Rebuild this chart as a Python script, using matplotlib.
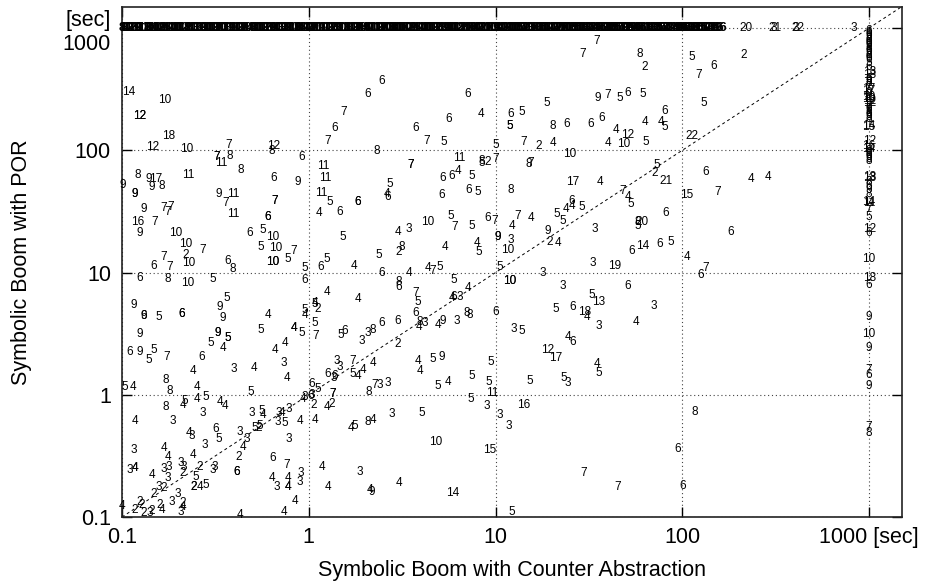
import matplotlib
matplotlib.use("Agg")
import matplotlib.pyplot as plt

plt.rcParams['font.family'] = ['Liberation Sans', 'DejaVu Sans']

# ---------------- data (x = Counter Abstraction time, y = POR time, label = parameter) -------------
pts_upper_left = [
    (0.108, 299, "14"), (0.170, 257, "10"), (0.125, 190, "12"), (0.125, 190, "12"),
    (0.178, 130, "18"), (0.145, 106, "12"), (0.223, 102, "10"), (0.373, 110, "7"),
    (0.322, 87.6, "7"), (0.322, 87.6, "7"), (0.378, 89.3, "8"), (0.338, 78.2, "11"),
    (0.650, 108, "12"), (0.634, 98, "8"), (0.918, 87.6, "6"), (0.122, 62.4, "8"),
    (0.139, 57.9, "9"), (0.152, 57.9, "17"), (0.227, 62.4, "11"), (0.433, 68.5, "8"),
    (0.650, 59.0, "6"), (0.873, 54.7, "9"), (0.101, 52.0, "9"),
]

pts_mid_left = [
    (0.145, 49.8, "9"), (0.164, 50.7, "8"), (0.117, 43.6, "9"), (0.117, 43.6, "9"),
    (0.130, 32.8, "9"), (0.168, 33.5, "7"), (0.183, 34.1, "7"), (0.176, 31.0, "7"),
    (0.121, 25.7, "16"), (0.150, 25.7, "7"), (0.125, 20.9, "9"), (0.194, 20.9, "10"),
    (0.220, 17.0, "10"), (0.271, 15.4, "7"), (0.220, 14.0, "2"), (0.228, 11.9, "10"),
    (0.168, 13.3, "7"), (0.147, 11.2, "6"), (0.181, 11.0, "7"), (0.124, 9.10, "6"),
    (0.176, 8.93, "8"), (0.225, 8.28, "10"), (0.307, 8.93, "5"), (0.330, 43.6, "9"),
    (0.392, 43.6, "11"), (0.360, 36.8, "7"), (0.392, 29.9, "11"), (0.658, 38.2, "7"),
    (0.658, 38.2, "7"), (0.604, 28.2, "6"), (0.604, 28.2, "6"), (0.484, 20.9, "6"),
    (0.568, 22.1, "5"), (0.642, 19.7, "10"), (0.554, 16.3, "5"), (0.666, 16.0, "10"),
    (0.642, 12.3, "10"), (0.642, 12.3, "10"), (0.772, 13.0, "5"), (0.831, 14.9, "7"),
    (0.369, 12.5, "6"), (0.392, 10.6, "8"), (0.952, 10.8, "5"), (0.952, 8.76, "6"),
    (0.115, 5.47, "9"), (0.364, 6.24, "5"), (0.334, 5.27, "9"), (0.347, 4.28, "9"),
    (0.130, 4.44, "6"), (0.130, 4.44, "9"), (0.158, 4.36, "5"), (0.209, 4.61, "6"),
    (0.209, 4.61, "6"), (0.604, 4.53, "4"), (0.952, 4.97, "5"), (0.952, 4.53, "4"),
    (0.125, 3.16, "9"), (0.326, 3.22, "9"), (0.326, 3.22, "9"), (0.369, 2.93, "5"),
    (0.369, 2.93, "5"), (0.299, 2.67, "5"), (0.347, 2.43, "4"), (0.554, 3.41, "5"),
    (0.831, 3.54, "4"), (0.831, 3.54, "4"), (0.918, 3.22, "5"), (0.744, 2.67, "4"),
    (0.658, 2.34, "4"), (0.110, 2.25, "6"), (0.125, 2.25, "9"), (0.148, 2.34, "5"),
]

pts_low_left = [
    (0.139, 1.94, "5"), (0.174, 2.05, "7"), (0.268, 2.05, "6"), (0.240, 1.57, "4"),
    (0.397, 1.63, "3"), (0.508, 1.66, "4"), (0.735, 1.83, "3"), (0.763, 1.38, "4"),
    (0.104, 1.16, "5"), (0.115, 1.16, "4"), (0.172, 1.33, "8"), (0.181, 1.08, "8"),
    (0.252, 1.16, "4"), (0.490, 1.06, "5"), (0.281, 0.963, "5"), (0.252, 0.927, "4"),
    (0.217, 0.893, "5"), (0.212, 0.828, "4"), (0.172, 0.797, "8"), (0.334, 0.877, "4"),
    (0.356, 0.813, "4"), (0.117, 0.612, "4"), (0.187, 0.612, "3"), (0.271, 0.712, "3"),
    (0.496, 0.712, "3"), (0.561, 0.740, "5"), (0.568, 0.686, "4"), (0.691, 0.712, "3"),
    (0.720, 0.712, "4"), (0.782, 0.768, "3"), (0.929, 0.927, "4"), (0.950, 0.963, "3"),
    (0.683, 0.601, "3"), (0.744, 0.589, "5"), (0.895, 0.612, "4"), (0.228, 0.488, "4"),
    (0.237, 0.461, "3"), (0.318, 0.527, "6"), (0.330, 0.436, "5"), (0.278, 0.389, "3"),
    (0.428, 0.497, "3"), (0.514, 0.537, "5"), (0.540, 0.537, "2"), (0.550, 0.557, "5"),
    (0.466, 0.436, "3"), (0.444, 0.375, "4"), (0.782, 0.436, "3"), (0.115, 0.354, "3"),
    (0.168, 0.368, "4"), (0.176, 0.310, "4"), (0.240, 0.322, "4"), (0.422, 0.310, "2"),
    (0.642, 0.305, "6"), (0.763, 0.267, "7"), (0.110, 0.243, "3"), (0.117, 0.252, "4"),
    (0.117, 0.252, "4"), (0.145, 0.221, "4"), (0.168, 0.247, "3"), (0.178, 0.257, "3"),
    (0.207, 0.277, "3"), (0.215, 0.257, "3"), (0.212, 0.229, "2"), (0.261, 0.257, "2"),
    (0.314, 0.257, "3"), (0.307, 0.243, "3"), (0.412, 0.234, "6"), (0.412, 0.234, "6"),
    (0.176, 0.209, "3"), (0.249, 0.213, "5"), (0.243, 0.176, "2"), (0.243, 0.176, "2"),
    (0.261, 0.176, "4"), (0.281, 0.183, "5"), (0.158, 0.176, "3"), (0.168, 0.173, "2"),
    (0.148, 0.154, "2"), (0.199, 0.154, "3"), (0.185, 0.133, "3"), (0.212, 0.130, "2"),
    (0.212, 0.121, "4"), (0.207, 0.110, "3"), (0.634, 0.209, "4"), (0.772, 0.209, "4"),
    (0.906, 0.229, "3"), (0.895, 0.194, "3"), (0.674, 0.176, "3"), (0.772, 0.176, "4"),
    (0.772, 0.176, "4"), (0.841, 0.135, "4"), (0.735, 0.110, "4"), (0.428, 0.104, "4"),
    (0.100, 0.123, "4"), (0.125, 0.133, "2"), (0.128, 0.125, "2"), (0.117, 0.114, "2"),
    (0.130, 0.108, "2"), (0.141, 0.108, "3"), (0.145, 0.112, "2"), (0.164, 0.114, "4"),
    (0.160, 0.125, "2"),
]

pts_upper_mid = [
    (2.46, 369, "6"), (2.07, 288, "6"), (1.54, 205, "7"), (1.38, 151, "6"),
    (1.26, 119, "7"), (2.31, 98.1, "8"), (3.73, 151, "6"), (4.28, 119, "7"),
    (5.27, 116, "5"), (7.08, 288, "6"), (5.61, 179, "6"), (8.31, 197, "4"),
    (10.0, 110, "5"), (6.42, 86.0, "11"), (8.41, 81.2, "8"), (8.41, 78.2, "5"),
    (9.06, 79.7, "2"), (10.0, 84.4, "7"), (1.19, 73.9, "11"), (1.22, 59.0, "11"),
    (3.51, 75.3, "7"), (3.51, 75.3, "7"), (5.21, 59.0, "6"), (5.82, 61.2, "6"),
    (6.26, 67.3, "4"), (7.44, 61.2, "5"), (12.0, 197, "6"), (13.9, 205, "5"),
    (11.9, 157, "5"), (11.9, 157, "5"), (2.71, 53.0, "5"),
]

pts_mid = [
    (1.17, 44.5, "11"), (1.30, 37.5, "5"), (1.83, 37.5, "6"), (1.83, 37.5, "6"),
    (1.13, 30.5, "4"), (1.47, 31.0, "6"), (2.61, 43.6, "4"), (2.64, 41.2, "6"),
    (5.14, 42.8, "6"), (7.17, 47.0, "6"), (8.01, 45.3, "5"), (1.52, 19.4, "5"),
    (2.99, 21.3, "4"), (3.42, 22.5, "3"), (4.33, 25.7, "10"), (5.74, 28.8, "5"),
    (6.04, 23.4, "7"), (7.44, 23.8, "5"), (9.06, 27.7, "6"), (9.88, 26.2, "7"),
    (10.3, 19.4, "9"), (10.3, 19.4, "9"), (5.34, 16.3, "4"), (7.91, 17.6, "4"),
    (8.11, 14.6, "5"), (2.37, 13.8, "5"), (3.14, 16.3, "8"), (3.03, 14.6, "2"),
    (1.25, 13.0, "5"), (1.16, 11.0, "6"), (1.74, 11.2, "4"), (2.46, 10.0, "6"),
    (3.42, 9.82, "4"), (4.33, 10.8, "4"), (4.60, 10.2, "7"), (5.02, 11.0, "5"),
    (5.96, 8.76, "5"), (10.5, 11.0, "5"), (3.03, 8.44, "8"), (3.03, 7.68, "6"),
    (1.25, 6.98, "4"), (1.83, 6.12, "4"), (3.73, 6.86, "7"), (3.83, 5.78, "5"),
    (5.82, 6.24, "4"), (5.96, 6.36, "6"), (6.42, 6.36, "3"), (7.08, 7.54, "4"),
    (1.08, 5.68, "4"), (1.08, 5.50, "5"), (1.12, 5.07, "2"), (1.08, 3.89, "5"),
    (1.09, 3.05, "7"), (1.48, 3.10, "5"), (1.56, 3.35, "6"), (1.92, 2.77, "3"),
    (2.07, 3.22, "3"), (2.20, 3.41, "8"), (2.46, 3.89, "6"), (2.99, 4.04, "6"),
    (3.73, 4.70, "6"), (3.92, 3.97, "8"), (4.17, 3.89, "3"), (3.87, 3.61, "4"),
    (4.90, 3.75, "4"), (5.21, 4.04, "9"), (6.18, 4.04, "3"), (7.00, 4.70, "8"),
    (7.26, 4.53, "8"), (10.0, 4.79, "6"), (2.99, 2.62, "2"),
]

pts_low_mid = [
    (1.41, 1.90, "3"), (1.47, 1.70, "3"), (1.72, 1.90, "7"), (1.26, 1.49, "6"),
    (1.36, 1.38, "3"), (1.38, 1.43, "6"), (1.72, 1.49, "5"), (1.83, 1.43, "4"),
    (1.94, 1.60, "4"), (2.20, 1.83, "4"), (3.83, 1.90, "4"), (3.92, 1.57, "4"),
    (4.60, 1.97, "5"), (5.14, 2.05, "9"), (9.40, 1.86, "5"), (7.44, 1.43, "5"),
    (9.18, 1.28, "5"), (5.54, 1.28, "4"), (4.90, 1.19, "5"), (2.09, 1.06, "8"),
    (2.25, 1.21, "7"), (2.40, 1.21, "3"), (2.64, 1.25, "3"), (1.04, 1.23, "6"),
    (1.12, 1.12, "5"), (1.04, 1.00, "3"), (1.02, 0.98, "6"), (1.34, 1.02, "7"),
    (1.34, 1.02, "7"), (1.06, 0.828, "2"), (1.25, 0.797, "4"), (1.32, 0.844, "2"),
    (1.08, 0.624, "4"), (1.68, 0.537, "4"), (1.76, 0.557, "5"), (2.07, 0.601, "8"),
    (2.20, 0.624, "4"), (2.78, 0.699, "3"), (4.02, 0.712, "5"), (7.35, 0.927, "5"),
    (8.95, 0.813, "3"), (9.64, 1.04, "11"), (10.5, 0.686, "3"), (4.78, 0.412, "10"),
    (9.29, 0.354, "15"), (1.17, 0.257, "4"), (1.87, 0.234, "3"), (1.26, 0.176, "4"),
    (2.12, 0.166, "4"), (2.17, 0.160, "9"), (3.03, 0.190, "4"), (5.89, 0.157, "14"),
]

pts_right = [
    (19.0, 2.34, "12"), (21.0, 2.01, "17"), (35.1, 1.80, "4"), (35.5, 1.51, "5"),
    (15.2, 1.30, "5"), (23.1, 1.38, "5"), (24.3, 1.25, "3"), (14.1, 0.828, "16"),
    (11.7, 0.557, "3"), (117, 0.726, "8"), (94.0, 0.361, "6"), (29.6, 0.229, "7"),
    (44.9, 0.176, "7"), (101, 0.180, "6"), (12.2, 0.110, "5"),
    (12.0, 47.0, "8"), (25.8, 54.7, "17"), (36.4, 54.7, "4"), (47.8, 46.1, "7"),
    (51.4, 41.2, "4"), (52.7, 36.1, "5"), (82.1, 55.7, "21"), (105, 42.8, "15"),
    (81.1, 30.5, "6"), (25.5, 38.2, "6"), (23.7, 32.8, "4"), (25.8, 34.8, "4"),
    (28.8, 34.1, "5"), (21.2, 29.9, "5"), (22.8, 26.2, "5"), (13.1, 28.8, "7"),
    (12.2, 23.8, "4"), (15.4, 27.7, "4"), (19.0, 21.7, "9"), (19.4, 17.9, "2"),
    (21.5, 17.6, "4"), (33.8, 22.5, "3"), (12.0, 18.6, "3"), (11.6, 15.4, "10"),
    (57.4, 25.7, "8"), (61.1, 25.7, "20"), (57.4, 23.8, "5"), (61.1, 16.6, "14"),
    (53.3, 15.1, "6"), (75.3, 17.0, "6"), (86.3, 17.9, "5"), (106, 13.5, "4"),
    (33.0, 11.9, "3"), (43.3, 11.2, "19"), (133, 10.8, "7"), (125, 9.63, "6"),
    (11.9, 8.60, "10"), (11.9, 8.60, "10"), (17.8, 9.82, "3"), (22.8, 7.82, "3"),
    (50.8, 7.82, "6"), (32.6, 6.60, "5"), (35.5, 5.78, "13"), (70.0, 5.37, "3"),
    (21.0, 5.07, "5"), (25.8, 5.27, "6"), (29.9, 4.79, "18"), (30.7, 4.36, "4"),
    (35.5, 3.68, "3"), (56.7, 3.97, "4"), (12.5, 3.47, "3"), (13.8, 3.35, "5"),
    (24.3, 2.99, "4"), (25.8, 2.72, "6"),
]

pts_upper_right = [
    (34.7, 782, "7"), (29.2, 612, "7"), (58.9, 612, "8"), (62.6, 479, "2"),
    (113, 578, "5"), (122, 412, "7"), (35.1, 267, "9"), (39.7, 282, "7"),
    (46.0, 267, "5"), (50.8, 293, "6"), (61.8, 288, "5"), (130, 243, "5"),
    (18.7, 243, "5"), (20.2, 157, "8"), (24.0, 163, "6"), (32.2, 163, "6"),
    (36.9, 183, "6"), (80.1, 209, "6"), (77.2, 170, "4"), (80.1, 154, "5"),
    (63.4, 170, "4"), (44.4, 146, "4"), (50.8, 133, "12"), (20.4, 114, "4"),
    (40.2, 114, "4"), (48.3, 112, "10"), (63.4, 116, "5"), (113, 130, "22"),
    (14.1, 116, "7"), (17.0, 108, "2"), (24.9, 92.7, "10"), (15.0, 76.8, "8"),
    (15.4, 78.2, "7"), (72.6, 75.3, "5"), (70.8, 64.8, "2"), (134, 66.0, "6"),
    (212, 601, "2"), (148, 488, "6"), (234, 57.9, "4"), (288, 60.1, "4"),
    (154, 45.3, "7"), (181, 21.3, "6"),
]

# runs that timed out with Counter Abstraction (x = 1000 s)
col_y = [945, 910, 877, 845, 813, 783, 753, 725, 699, 672, 648, 624, 601, 578, 557,
         517, 479, 436, 412, 382, 368, 354, 341, 328, 316, 305, 293, 282, 272, 262,
         252, 243, 234, 225, 217, 209, 201, 194, 186, 179, 157, 154, 119, 108, 102,
         98.1, 94.5, 91.0, 87.6, 84.4, 81.2, 60.1, 59.0, 54.7, 50.7, 47.0, 43.6, 37.5,
         36.8, 32.8, 28.2, 22.5, 20.9, 12.8, 9.10, 7.97, 4.36, 3.16, 2.43, 1.60, 1.46,
         1.19, 0.547, 0.488]
col_lab = ["6", "6", "6", "8", "8", "6", "6", "9", "9", "6", "6", "8", "8", "6", "6",
           "5", "6", "13", "18", "6", "8", "8", "7", "7", "17", "17", "9", "9", "10", "10",
           "12", "12", "7", "7", "9", "9", "6", "6", "8", "8", "14", "15", "12", "16", "14",
           "8", "8", "6", "6", "8", "8", "18", "13", "8", "6", "9", "8", "14",
           "11", "7", "5", "12", "6", "10", "18", "6", "9", "10", "9", "7", "6",
           "9", "7", "8"]

# runs that timed out with POR (y = 1000 s)
band_x = [0.100, 0.106, 0.113, 0.120, 0.128, 0.136, 0.145, 0.154, 0.164, 0.174,
          0.185, 0.197, 0.209, 0.223, 0.237, 0.252, 0.268, 0.285, 0.303, 0.322,
          0.343, 0.364, 0.387, 0.412, 0.438, 0.466, 0.496, 0.527, 0.561, 0.596,
          0.634, 0.675, 0.717, 0.763, 0.811, 0.863, 0.918, 0.976, 1.04, 1.10,
          1.17, 1.25, 1.33, 1.41, 1.50, 1.60, 1.70, 1.81, 1.92, 2.04,
          2.17, 2.31, 2.46, 2.61, 2.78, 2.96, 3.14, 3.34, 3.56, 3.78,
          4.02, 4.28, 4.55, 4.84, 5.15, 5.47, 5.82, 6.19, 6.58, 7.00,
          7.45, 7.92, 8.42, 8.96, 9.52, 10.1, 10.8, 11.5, 12.2, 13.0,
          13.8, 14.7, 15.6, 16.6, 17.7, 18.8, 20.0, 21.3, 22.6, 24.0,
          25.6, 27.2, 28.9, 30.8, 32.7, 34.8, 37.0, 39.4, 41.9, 44.5,
          47.3, 50.3, 53.5, 56.9, 60.5, 64.4, 68.5, 72.8, 77.4, 82.3,
          87.6, 93.1, 99.0, 105, 112, 119, 127, 135, 143, 152]
band_x2 = [0.103, 0.110, 0.116, 0.124, 0.132, 0.140, 0.149, 0.159, 0.169, 0.180,
           0.191, 0.203, 0.216, 0.230, 0.244, 0.260, 0.276, 0.294, 0.312, 0.332,
           0.353, 0.375, 0.399, 0.425, 0.452, 0.481, 0.511, 0.544, 0.578, 0.615,
           0.654, 0.696, 0.740, 0.787, 0.837, 0.890, 0.947, 1.01, 1.07, 1.14,
           1.21, 1.29, 1.37, 1.46, 1.55, 1.65, 1.75, 1.86, 1.98, 2.11,
           2.24, 2.38, 2.53, 2.70, 2.87, 3.05, 3.24, 3.45, 3.67, 3.90,
           4.15, 4.41, 4.69, 4.99, 5.31, 5.64, 6.00, 6.38, 6.79, 7.22,
           7.68, 8.17, 8.69, 9.24, 9.82, 10.5, 11.1, 11.8, 12.6, 13.4,
           14.2, 15.1, 16.1, 17.1, 18.2, 19.4, 20.6, 21.9, 23.3, 24.8,
           26.4, 28.0, 29.8, 31.7, 33.7, 35.9, 38.2, 40.6, 43.2, 45.9,
           48.8, 51.9, 55.2, 58.7, 62.4, 66.4, 70.6, 75.1, 79.8, 84.9,
           90.3, 96.0, 102, 108, 115, 123, 131, 139, 148, 158]
band_lab = ["8", "12", "10", "9", "11", "8", "10", "12", "9", "14",
            "10", "11", "12", "8", "13", "10", "9", "11", "12", "10",
            "13", "11", "9", "12", "10", "14", "8", "11", "12", "10",
            "9", "13", "12", "11", "10", "8", "14", "12", "10", "11",
            "9", "12", "13", "10", "11", "8", "12", "10", "14", "9",
            "11", "12", "10", "13", "8", "11", "10", "12", "9", "14",
            "10", "11", "12", "13", "10", "9", "11", "12", "8", "10",
            "14", "12", "11", "10", "13", "9", "12", "10", "11", "15",
            "12", "13", "10", "16", "11", "14", "12", "17", "10", "13",
            "15", "11", "18", "12", "14", "16", "13", "10", "15", "17",
            "12", "19", "14", "16", "11", "18", "13", "15", "17", "12",
            "14", "19", "16", "13", "18", "15", "17", "14", "19", "16"]
extra_timeout_x = [220, 314, 310, 417, 405, 832]
extra_timeout_lab = ["20", "21", "3", "22", "3", "3"]
timeout_y = 1000

# ---------------- figure ----------------
fig = plt.figure(figsize=(9.27, 5.84), dpi=100)
ax = fig.add_axes([122 / 927, 67 / 584, 780 / 927, 510.5 / 584])
ax.set_xscale('log')
ax.set_yscale('log')
ax.set_xlim(0.1, 1500)
ax.set_ylim(0.1, 1500)

label_kw = dict(ha='center', va='center', fontsize=8.5, color='black')

for group in (pts_upper_left, pts_mid_left, pts_low_left, pts_upper_mid,
              pts_mid, pts_low_mid, pts_right, pts_upper_right):
    for x, y, s in group:
        ax.text(x, y, s, **label_kw)

for y, s in zip(col_y, col_lab):
    ax.text(1000, y, s, **label_kw)
band_kw = dict(ha='center', va='center', fontsize=9.5, color='black', fontweight='bold')
for xs in (band_x, band_x2):
    for x, s in zip(xs, band_lab):
        ax.text(x, timeout_y, s, **band_kw)
for x, s in zip(extra_timeout_x, extra_timeout_lab):
    ax.text(x, timeout_y, s, **label_kw)

# diagonal y = x
ax.plot([0.1, 1500], [0.1, 1500], color='black', lw=0.7, dashes=(3, 3))

ax.grid(True, which='major', linestyle=(0, (1, 2.5)), color='#444444', lw=0.8)
ax.minorticks_off()
ax.set_xticks([0.1, 1, 10, 100, 1000])
ax.set_xticklabels(["0.1", "1", "10", "100", "1000 [sec]"])
ax.set_yticks([0.1, 1, 10, 100, 1000])
ax.set_yticklabels(["0.1", "1", "10", "100", "[sec]\n1000"])
ax.tick_params(which='major', direction='in', length=7, width=1.0,
               top=True, right=True, labelsize=15.5)
ax.tick_params(axis='x', pad=7)
ax.tick_params(axis='y', pad=8)
for sp in ax.spines.values():
    sp.set_linewidth(1.2)
    sp.set_color('#222222')

ax.set_xlabel("Symbolic Boom with Counter Abstraction", fontsize=15.5, labelpad=9)
ax.set_ylabel("Symbolic Boom with POR", fontsize=15.5, labelpad=22)

fig.savefig("out.png", dpi=100)
